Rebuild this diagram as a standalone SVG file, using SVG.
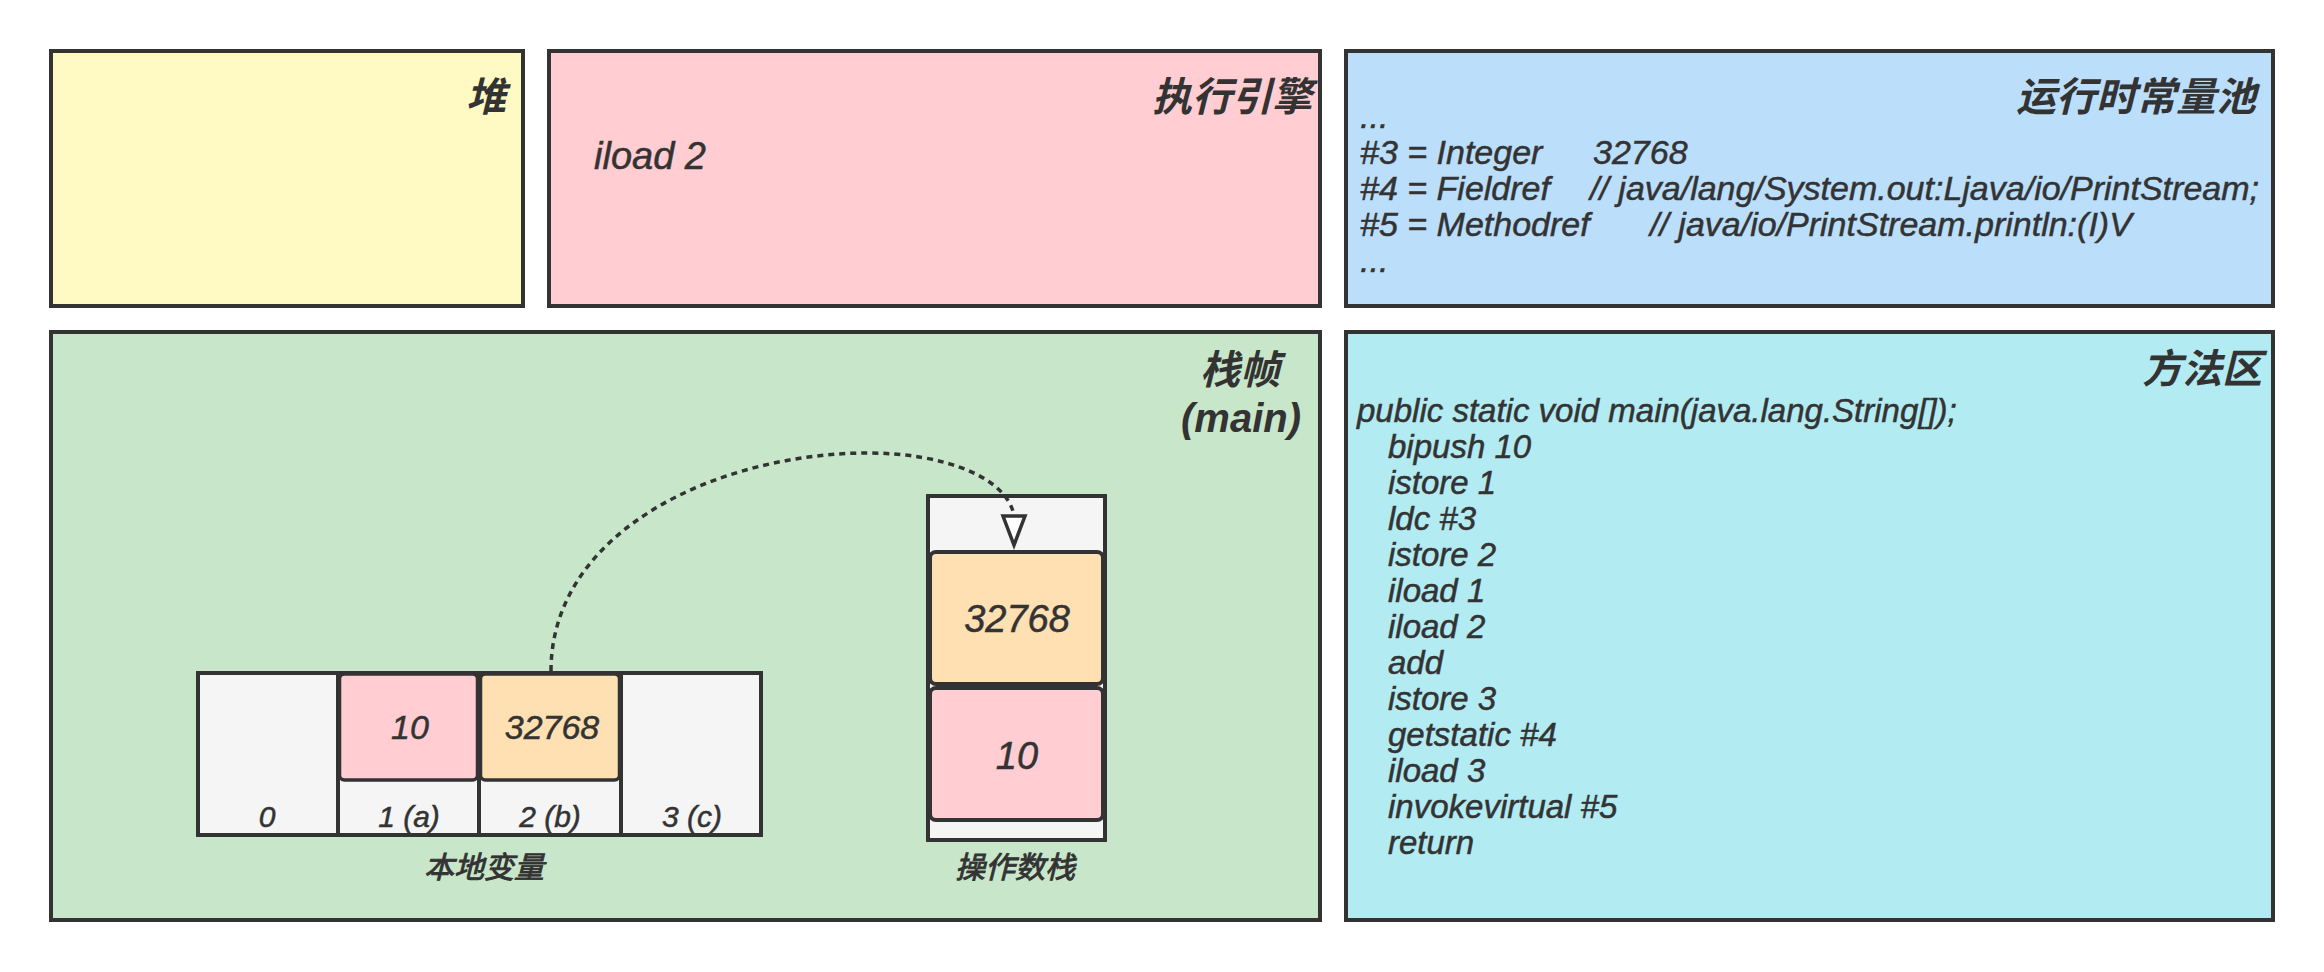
<svg xmlns="http://www.w3.org/2000/svg" width="2324" height="972" viewBox="0 0 2324 972">
<style>
.t{font-family:"Liberation Sans","Noto Sans CJK SC",sans-serif;font-style:italic;fill:#333333;stroke:#333333;stroke-width:0.5}
.title{font-size:40px;font-weight:bold;stroke-width:0}
.code{font-size:33px}
.pool{font-size:34px}
.lbl{font-size:30px}
.cjk{stroke-width:0.9}
.box{stroke:#333333;stroke-width:4}
.cell{stroke:#333333;stroke-width:3.5}
</style>
<rect width="2324" height="972" fill="#ffffff"/>

<g id="heap">
<rect class="box" x="51" y="51" width="472" height="255" fill="#fff9c4"/>
<text class="t title" x="506" y="111" text-anchor="end">堆</text>
</g>

<g id="engine">
<rect class="box" x="549" y="51" width="771" height="255" fill="#ffcdd2"/>
<text class="t title" x="1312" y="111" text-anchor="end">执行引擎</text>
<text class="t" x="594" y="169" font-size="38">iload 2</text>
</g>

<g id="constpool">
<rect class="box" x="1346" y="51" width="927" height="255" fill="#bbdefb"/>
<text class="t title" x="2256" y="111" text-anchor="end">运行时常量池</text>
<text class="t pool" x="1360" y="128">...</text>
<text class="t pool" y="164"><tspan x="1360">#3 = Integer</tspan><tspan x="1593">32768</tspan></text>
<text class="t pool" y="200"><tspan x="1360">#4 = Fieldref</tspan><tspan x="1590">// java/lang/System.out:Ljava/io/PrintStream;</tspan></text>
<text class="t pool" y="236"><tspan x="1360">#5 = Methodref</tspan><tspan x="1650">// java/io/PrintStream.println:(I)V</tspan></text>
<text class="t pool" x="1360" y="272">...</text>
</g>

<g id="stackframe">
<rect class="box" x="51" y="332" width="1269" height="588" fill="#c8e6c9"/>
<text class="t title" x="1240" y="384" text-anchor="middle">栈帧</text>
<text class="t title" x="1241" y="432" text-anchor="middle">(main)</text>
</g>

<g id="localvars">
<rect class="box" x="198" y="673" width="563" height="162" fill="#f5f5f5"/>
<line class="box" x1="338" y1="673" x2="338" y2="835"/>
<line class="box" x1="479" y1="673" x2="479" y2="835"/>
<line class="box" x1="621" y1="673" x2="621" y2="835"/>
<text class="t lbl" x="267" y="827" text-anchor="middle">0</text>
<text class="t lbl" x="409" y="827" text-anchor="middle">1 (a)</text>
<text class="t lbl" x="550" y="827" text-anchor="middle">2 (b)</text>
<text class="t lbl" x="692" y="827" text-anchor="middle">3 (c)</text>
<text class="t lbl cjk" x="484" y="878" text-anchor="middle">本地变量</text>
</g>

<g id="local-a">
<rect class="cell" x="339.5" y="674" width="138" height="106" rx="5" fill="#ffcdd2"/>
<text class="t" x="410" y="739" font-size="34" text-anchor="middle">10</text>
</g>

<g id="local-b">
<rect class="cell" x="480.5" y="674" width="139" height="106" rx="5" fill="#ffe0b2"/>
<text class="t" x="552" y="739" font-size="34" text-anchor="middle">32768</text>
</g>

<g id="opstack">
<rect class="box" x="928" y="496" width="177" height="344" fill="#f5f5f5"/>
<text class="t lbl cjk" x="1015" y="878" text-anchor="middle">操作数栈</text>
</g>

<g id="op-top">
<rect class="box" x="930" y="552" width="173" height="132" rx="6" fill="#ffe0b2"/>
<text class="t" x="1017" y="632" font-size="38" text-anchor="middle">32768</text>
</g>

<g id="op-bottom">
<rect class="box" x="930" y="688" width="173" height="132" rx="6" fill="#ffcdd2"/>
<text class="t" x="1017" y="769" font-size="38" text-anchor="middle">10</text>
</g>

<g id="methodarea">
<rect class="box" x="1346" y="332" width="927" height="588" fill="#b2ebf2"/>
<text class="t title" x="2262" y="383" text-anchor="end">方法区</text>
<text class="t code" x="1357" y="422">public static void main(java.lang.String[]);</text>
<text class="t code" x="1388" y="458">bipush 10</text>
<text class="t code" x="1388" y="494">istore 1</text>
<text class="t code" x="1388" y="530">ldc #3</text>
<text class="t code" x="1388" y="566">istore 2</text>
<text class="t code" x="1388" y="602">iload 1</text>
<text class="t code" x="1388" y="638">iload 2</text>
<text class="t code" x="1388" y="674">add</text>
<text class="t code" x="1388" y="710">istore 3</text>
<text class="t code" x="1388" y="746">getstatic #4</text>
<text class="t code" x="1388" y="782">iload 3</text>
<text class="t code" x="1388" y="818">invokevirtual #5</text>
<text class="t code" x="1388" y="854">return</text>
</g>

<g id="connectors">
<path d="M551,671 C551,530 720,453 868,453 C945,453 1008,478 1014,516" fill="none" stroke="#333333" stroke-width="3.5" stroke-dasharray="6 5"/>
<path d="M1003,516 L1025,516 L1014,545 Z" fill="#ffffff" stroke="#333333" stroke-width="3.5"/>
</g>
</svg>
